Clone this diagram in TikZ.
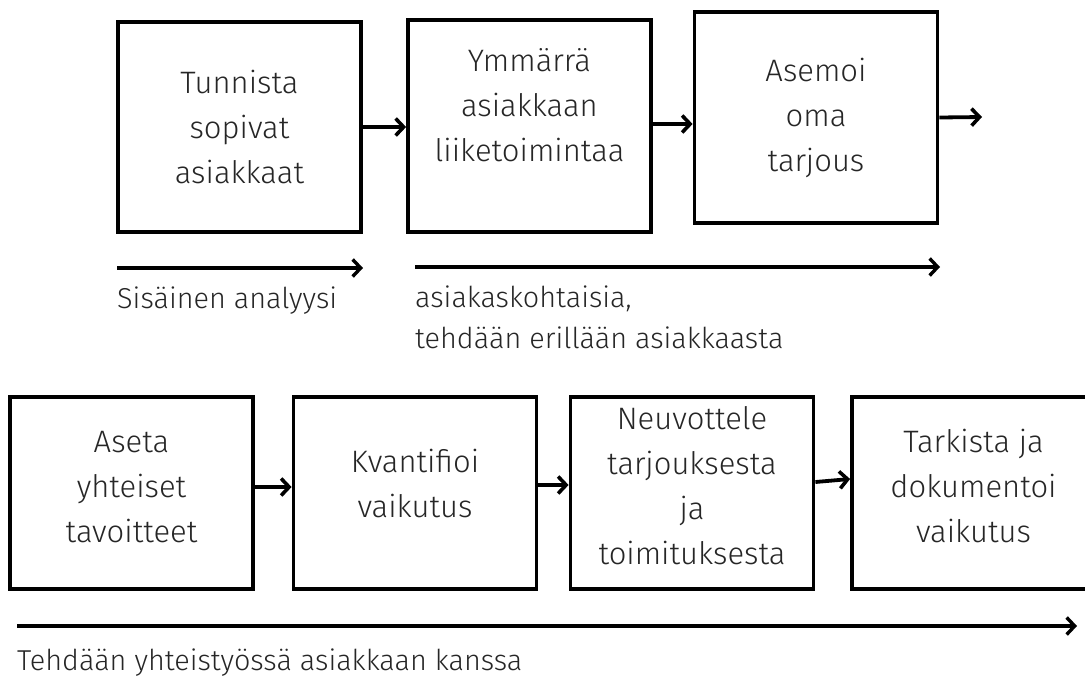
\documentclass[tikz,border=0pt]{standalone}
\usepackage{fontspec}
\setmainfont{Fira Sans Light}
\usetikzlibrary{arrows.meta,calc}
\begin{document}
\begin{tikzpicture}[x=1pt,y=-1pt,
  stepbox/.style={draw=black, line width=3.8pt, inner sep=0pt,
    minimum width=243pt, minimum height=#1},
  stepbox/.default=210pt,
  boxtext/.style={align=center, text=black!85, inner sep=0pt,
    font=\fontsize{31}{45}\selectfont},
  note/.style={text=black!85, inner sep=0pt, align=left,
    font=\fontsize{28.8}{41}\selectfont},
  flow/.style={line width=3.8pt, -{Straight Barb[length=8pt,width=17pt,line width=3.6pt]}},
  span/.style={line width=3.2pt, -{Straight Barb[length=8pt,width=17pt,line width=3.4pt]}}]
\useasboundingbox (0,0) rectangle (1085,681);
\clip (0,0) rectangle (1085,681);
\fill[white] (0,0) rectangle (1085,681);

% upper row of steps
\node[stepbox] (b1) at (239.5,127) {};
\node[stepbox=212pt] (b2) at (529.5,126) {};
\node[stepbox=211pt] (b3) at (816,117.5) {};
\node[boxtext] (t1) at (b1.center) {Tunnista\\sopivat\\asiakkaat};
\node[boxtext] (t2) at ($(b2.center)+(0,-21)$) {Ymmärrä\\asiakkaan\\liiketoimintaa};
\node[boxtext] (t3) at (b3.center) {Asemoi\\oma\\tarjous};

% lower row of steps
\node[stepbox=192pt] (b4) at (131.5,493) {};
\node[stepbox=192pt] (b5) at (415,493) {};
\node[stepbox=192pt] (b6) at (692,493) {};
\node[stepbox=192pt] (b7) at (973.5,493) {};
\node[boxtext] (t4) at ($(b4.center)+(0,-6)$) {Aseta\\yhteiset\\tavoitteet};
\node[boxtext] (t5) at ($(b5.center)+(0,-10)$) {Kvantifioi\\vaikutus};
\node[boxtext] (t6) at ($(b6.center)+(0,-7)$) {Neuvottele\\tarjouksesta\\ja\\toimituksesta};
\node[boxtext] (t7) at ($(b7.center)+(0,-7)$) {Tarkista ja\\dokumentoi\\vaikutus};

% connectors between steps
\coordinate (out3) at (982,117);
\draw[flow] (b1.east) -- (b1.east -| b2.west);
\draw[flow] ([yshift=2pt]b2.east) -- ([yshift=2pt]b2.east -| b3.west);
\draw[flow] (b3.east) -- (out3);
\draw[flow] ([yshift=6pt]b4.east) -- ([yshift=6pt]b4.east -| b5.west);
\draw[flow] ([yshift=8pt]b5.east) -- ([yshift=8pt]b5.east -| b6.west);
\draw[flow] ([yshift=11pt]b6.east) -- ([yshift=14pt]b7.west);

% phase spans with their captions
\coordinate (s1a) at (117,268);
\coordinate (s1b) at (363,268);
\coordinate (s2a) at (415,267);
\coordinate (s2b) at (940,267);
\coordinate (s3a) at (17,626);
\coordinate (s3b) at (1077,626);
\draw[span] (s1a) -- (s1b);
\draw[span] (s2a) -- (s2b);
\draw[span] (s3a) -- (s3b);
\node[note, anchor=west] (n1) at (117,301) {Sisäinen analyysi};
\node[note, anchor=north west] (n2) at (415,286) {asiakaskohtaisia,\\tehdään erillään asiakkaasta};
\node[note, anchor=west] (n3) at (17,663) {Tehdään yhteistyössä asiakkaan kanssa};
\end{tikzpicture}
\end{document}
